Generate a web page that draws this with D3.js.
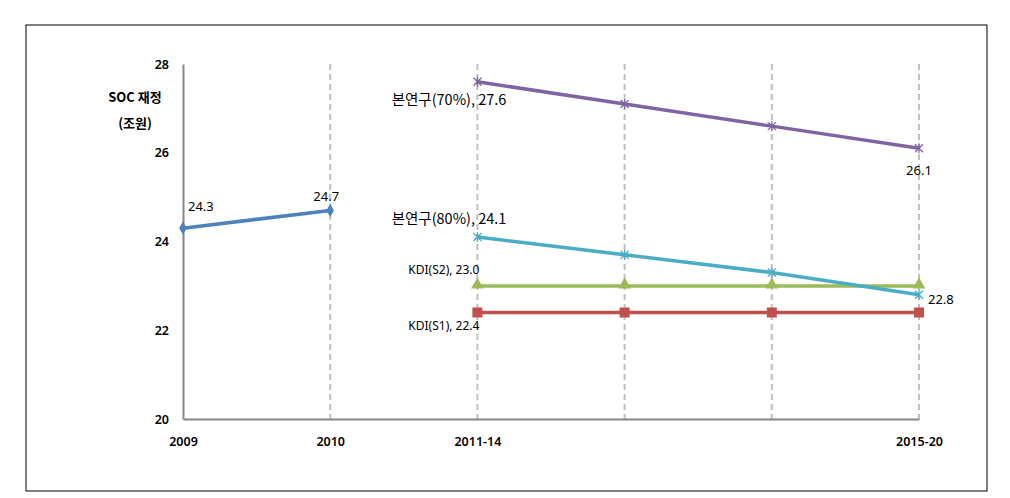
<!DOCTYPE html>
<html><head><meta charset="utf-8">
<script src="https://cdn.jsdelivr.net/npm/d3@7"></script>
<style>body{margin:0;background:#fff}svg{display:block}</style>
</head><body><svg id="c" width="1010" height="498"></svg>
<script>
const categories = ["2009","2010","2011-14","c4","c5","2015-20"];
const tickLabels = ["2009","2010","2011-14","","","2015-20"];
const yTicks = [20,22,24,26,28];
const histValues = [24.3, 24.7];
const histCats = ["2009","2010"];
const projCats = ["2011-14","c4","c5","2015-20"];
const study70 = [27.6, 27.1, 26.6, 26.1];
const study80 = [24.1, 23.7, 23.3, 22.8];
const kdiS2 = [23.0, 23.0, 23.0, 23.0];
const kdiS1 = [22.4, 22.4, 22.4, 22.4];

const svg = d3.select("#c");
svg.append("rect").attr("x",26).attr("y",25).attr("width",961).attr("height",466)
  .attr("fill","none").attr("stroke","#000").attr("stroke-width",1);

const x = d3.scalePoint().domain(categories).range([183,919]);
const y = d3.scaleLinear().domain([20,28]).range([419,64]);
const font = "'Noto Sans','DejaVu Sans',sans-serif";
const kfont = "'Noto Sans CJK KR','Noto Sans',sans-serif";

// dashed gridlines
svg.append("g").selectAll("line").data(categories.slice(1)).join("line")
  .attr("x1",d=>x(d)).attr("x2",d=>x(d)).attr("y1",y(28)).attr("y2",y(20))
  .attr("stroke","#BFBFBF").attr("stroke-width",2).attr("stroke-dasharray","6,4");

// axes
const yAxis = d3.axisLeft(y).tickValues(yTicks).tickSize(0).tickPadding(14);
const gy = svg.append("g").attr("transform","translate(183,0)").call(yAxis);
gy.select(".domain").attr("stroke","#868686").attr("stroke-width",2);
gy.selectAll("text").attr("font-family",font).attr("font-size",12.5).attr("font-weight","600").attr("fill","#000");

const xAxis = d3.axisBottom(x).tickSize(0).tickPadding(18).tickFormat((d,i)=>tickLabels[i]);
const gx = svg.append("g").attr("transform","translate(0,419)").call(xAxis);
gx.select(".domain").attr("stroke","#868686").attr("stroke-width",2);
gx.selectAll("text").attr("font-family",font).attr("font-size",12.5).attr("font-weight","600").attr("fill","#000");

// y title
svg.append("text").attr("x",135).attr("y",102).attr("text-anchor","middle")
  .attr("font-family",kfont).attr("font-size",13).attr("font-weight","bold").text("SOC 재정");
svg.append("text").attr("x",135).attr("y",128).attr("text-anchor","middle")
  .attr("font-family",kfont).attr("font-size",13).attr("font-weight","bold").text("(조원)");

const line = d3.line().x(d=>x(d[0])).y(d=>y(d[1]));
function series(cats, vals, color){
  const pts = cats.map((c,i)=>[c,vals[i]]);
  svg.append("path").datum(pts).attr("d",line).attr("fill","none")
    .attr("stroke",color).attr("stroke-width",3.5);
  return pts;
}
// historical
const hp = series(histCats, histValues, "#4F81BD");
svg.append("g").selectAll("path").data(hp).join("path")
  .attr("d",d3.symbol(d3.symbolDiamond,50)).attr("fill","#4F81BD")
  .attr("transform",d=>`translate(${x(d[0])},${y(d[1])})`);

const kp1 = series(projCats, kdiS1, "#C0504D");
svg.append("g").selectAll("rect").data(kp1).join("rect")
  .attr("x",d=>x(d[0])-5).attr("y",d=>y(d[1])-5).attr("width",10).attr("height",10).attr("fill","#C0504D");

const kp2 = series(projCats, kdiS2, "#9BBB59");
svg.append("g").selectAll("path").data(kp2).join("path")
  .attr("d",d3.symbol(d3.symbolTriangle,70)).attr("fill","#9BBB59")
  .attr("transform",d=>`translate(${x(d[0])},${y(d[1])-1})`);

function xMarks(pts,color){
  svg.append("g").selectAll("path").data(pts).join("path")
    .attr("d","M-4,-4L4,4M-4,4L4,-4M0,-5L0,5").attr("stroke",color).attr("stroke-width",1.3).attr("fill","none")
    .attr("transform",d=>`translate(${x(d[0])},${y(d[1])})`);
}
const sp80 = series(projCats, study80, "#4BACC6");
xMarks(sp80,"#4BACC6");
const sp70 = series(projCats, study70, "#8064A2");
xMarks(sp70,"#8064A2");

// labels
function lbl(txt, px, py, anchor, size, fam){
  svg.append("text").attr("x",px).attr("y",py).attr("text-anchor",anchor||"start")
    .attr("font-family",fam||kfont).attr("font-size",size||13).attr("fill","#000").text(txt);
}
lbl(String(histValues[0]), x("2009")+5, y(histValues[0])-17, "start", 13, font);
lbl(String(histValues[1]), x("2010")-4, y(histValues[1])-9, "middle", 13, font);
lbl(`본연구(70%), ${study70[0].toFixed(1)}`, x("2011-14")+29, y(study70[0])+23, "end", 14.5);
lbl(study70[3].toFixed(1), x("2015-20"), y(study70[3])+27, "middle", 13, font);
lbl(`본연구(80%), ${study80[0].toFixed(1)}`, x("2011-14")+29, y(study80[0])-13, "end", 14.5);
lbl(`KDI(S2), ${kdiS2[0].toFixed(1)}`, x("2011-14")+2, y(kdiS2[0])-12, "end", 12, font);
lbl(`KDI(S1), ${kdiS1[0].toFixed(1)}`, x("2011-14")+2, y(kdiS1[0])+17, "end", 12, font);
lbl(study80[3].toFixed(1), x("2015-20")+9, y(study80[3])+9, "start", 13, font);
</script></body></html>
